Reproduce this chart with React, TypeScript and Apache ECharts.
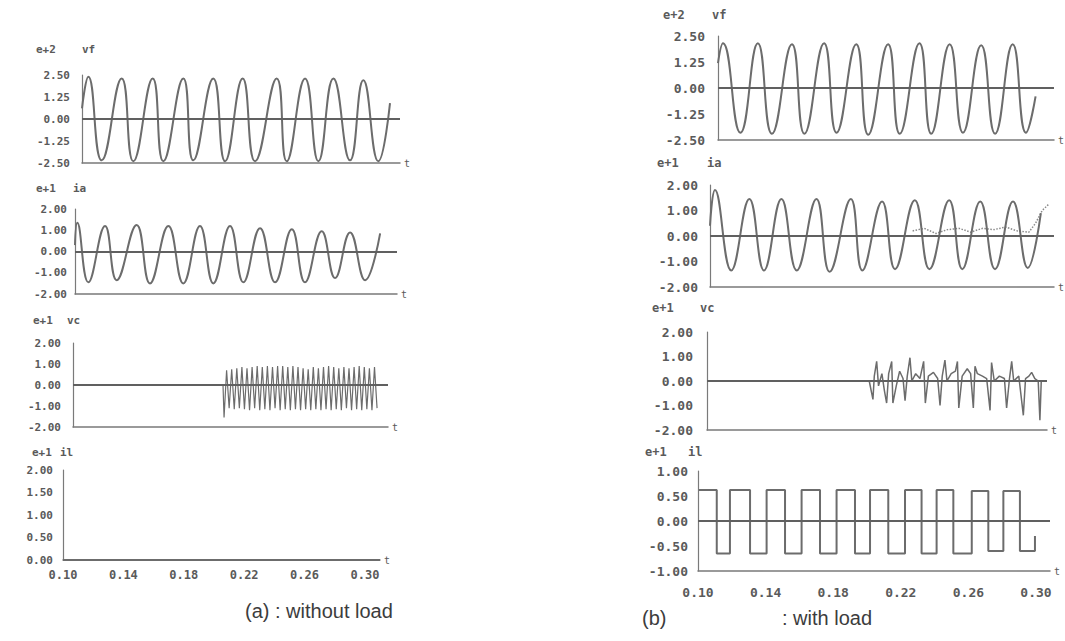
import React, { useEffect, useRef } from "react";
import * as echarts from "echarts";

// ---------- tick labels ----------
const xTickLabels = ["0.10", "0.14", "0.18", "0.22", "0.26", "0.30"];
const vfTicks = [-2.5, -1.25, 0, 1.25, 2.5];
const iaTicks = [-2, -1, 0, 1, 2];
const vcTicks = [-2, -1, 0, 1, 2];
const ilTicksA = [0, 0.5, 1, 1.5, 2];
const ilTicksB = [-1, -0.5, 0, 0.5, 1];

// ---------- (a) without load ----------
// vf : start, then alternating peaks / troughs
const vfAT = [0.1, 0.1042, 0.113, 0.1262, 0.1339, 0.1467, 0.1537, 0.1669, 0.1735, 0.1867, 0.1945, 0.2061, 0.2143,
  0.2286, 0.2352, 0.2473, 0.2561, 0.266, 0.277, 0.2858, 0.2957, 0.3034];
const vfAV = [0.6, 2.4, -2.35, 2.3, -2.4, 2.3, -2.4, 2.3, -2.35, 2.3, -2.4, 2.3, -2.4, 2.3, -2.4, 2.3, -2.4, 2.3,
  -2.35, 2.2, -2.4, 0.9];

const iaAT = [0.1, 0.1015, 0.1087, 0.1196, 0.1272, 0.1402, 0.1489, 0.1609, 0.1706, 0.1815, 0.1902, 0.2011, 0.2098,
  0.2207, 0.2305, 0.2414, 0.25, 0.2609, 0.2696, 0.2794, 0.2892, 0.299];
const iaAV = [0.3, 1.35, -1.45, 1.2, -1.35, 1.25, -1.5, 1.2, -1.5, 1.2, -1.5, 1.2, -1.45, 1.1, -1.45, 1.05, -1.45,
  0.95, -1.25, 0.9, -1.35, 0.85];

const vcABaseT = [0.1, 0.2];
const vcABaseV = [0, 0];
const vcASpikeStart = 0.2007;
const vcASpikeStep = 0.0017;
const vcASpikeV = [-1.55, 0.7, -1.1, 0.75, -1.15, 0.8, -1.1, 0.85, -1.15, 0.8, -1.2, 0.85, -1.1, 0.9, -1.2, 0.85,
  -1.15, 0.9, -1.2, 0.85, -1.1, 0.9, -1.2, 0.9, -1.15, 0.85, -1.2, 0.9, -1.15, 0.85, -1.2, 0.8, -1.15, 0.75, -1.2,
  0.85, -1.15, 0.8, -1.2, 0.85, -1.15, 0.9, -1.2, 0.85, -1.15, 0.8, -1.2, 0.85, -1.1, 0.8, -1.2, 0.85, -1.15, 0.9,
  -1.2, 0.85, -1.15, 0.8, -1.2, 0.85, -1.1];

const ilAT = [0.1, 0.31];
const ilAV = [0, 0];

// ---------- (b) with load ----------
const vfBT = [0.1, 0.1031, 0.114, 0.1249, 0.1337, 0.1462, 0.154, 0.1663, 0.1741, 0.1864, 0.1939, 0.2063, 0.2136,
  0.2259, 0.2333, 0.2448, 0.2531, 0.2645, 0.2732, 0.2842, 0.2925, 0.2985];
const vfBV = [1.2, 2.15, -2.15, 2.15, -2.2, 2.1, -2.2, 2.15, -2.15, 2.1, -2.25, 2.1, -2.2, 2.15, -2.2, 2.1, -2.15,
  2.05, -2.2, 2.1, -2.15, -0.4];

const iaBT = [0.1, 0.103, 0.1128, 0.1237, 0.1325, 0.143, 0.1522, 0.1641, 0.172, 0.1848, 0.1917, 0.2036, 0.2114,
  0.2233, 0.2321, 0.244, 0.2519, 0.2627, 0.2716, 0.2824, 0.2913, 0.2992];
const iaBV = [0.4, 1.8, -1.35, 1.45, -1.35, 1.45, -1.35, 1.45, -1.4, 1.45, -1.35, 1.35, -1.3, 1.4, -1.3, 1.4, -1.3,
  1.35, -1.3, 1.35, -1.25, 0.9];
// dotted trace superimposed on ia
const iaRefBT = [0.222, 0.229, 0.236, 0.243, 0.25, 0.257, 0.264, 0.271, 0.278, 0.285, 0.292, 0.296, 0.3, 0.304];
const iaRefBV = [0.2, 0.3, 0.1, 0.25, 0.3, 0.15, 0.3, 0.25, 0.35, 0.2, 0.15, 0.5, 1.0, 1.25];

const vcBT = [0.1, 0.196, 0.1982, 0.199, 0.2004, 0.2015, 0.2035, 0.205, 0.2063, 0.2075, 0.2093, 0.21, 0.212, 0.214,
  0.216, 0.2172, 0.2185, 0.2201, 0.2212, 0.2235, 0.226, 0.2282, 0.2292, 0.231, 0.234, 0.2365, 0.2379, 0.2392, 0.2408,
  0.242, 0.2445, 0.247, 0.2482, 0.249, 0.251, 0.254, 0.256, 0.2576, 0.2586, 0.26, 0.263, 0.2655, 0.2675, 0.2684, 0.27,
  0.273, 0.276, 0.2773, 0.279, 0.2803, 0.2815, 0.2845, 0.2872, 0.2885, 0.2905, 0.2921, 0.294, 0.296, 0.297, 0.2978, 0.3];
const vcBV = [0, 0, -0.75, 0.2, 0.8, -0.2, 0.3, -0.4, -0.9, 0.3, 0.8, -0.9, -0.2, 0.4, 0.1, -0.8, 0.2, 0.95, 0, 0.3,
  0.1, 0.8, -0.9, 0.2, 0.35, 0.1, -1.0, 0.2, 0.85, 0, 0.3, 0.4, 0.8, -1.1, 0.2, 0.5, 0.3, -1.1, 0.6, 0.3, 0.2, 0.1,
  -1.2, 0.75, 0, 0.2, 0.1, -1.1, 0.1, 0.8, 0, 0.2, -1.4, 0.1, 0.2, 0.35, 0.1, 0, -1.6, 0, 0];

// square-wave load current: switching instants and the level after each
const ilBEdgeT = [0.1005, 0.1111, 0.1189, 0.1308, 0.1406, 0.1515, 0.1613, 0.1722, 0.182, 0.1929, 0.2018, 0.2126,
  0.2225, 0.2323, 0.2412, 0.2511, 0.262, 0.2718, 0.2807, 0.2905, 0.2994];
const ilBLevel = [0.62, -0.65, 0.62, -0.65, 0.62, -0.65, 0.62, -0.65, 0.62, -0.65, 0.62, -0.65, 0.62, -0.65, 0.62,
  -0.65, 0.6, -0.6, 0.6, -0.6, -0.3];

const zip = (t: number[], v: number[]) => t.map((x, i) => [x, v[i]]);

const WAVE = "#6c6c6c";
const AXIS = "#7a7a7a";
const TXT = "#5a5a5a";
const MONO = "'DejaVu Sans Mono', 'Liberation Mono', monospace";

type Panel = {
  left: number; top: number; width: number; height: number; xMax: number;
  ticks: number[]; yMargin: number; ySize: number; xLabels: boolean; xSize: number; xMargin: number;
  exp: string; name: string; expX: number; nameX: number; headY: number; headSize: number; zero: boolean;
};

const panels: Panel[] = [
  { left: 82, top: 75, width: 318, height: 88, xMax: 0.31, ticks: vfTicks, yMargin: 12, ySize: 11, xLabels: false, xSize: 12, xMargin: 8, exp: "e+2", name: "vf", expX: 36, nameX: 82, headY: 49, headSize: 11, zero: true },
  { left: 75, top: 209, width: 322, height: 85, xMax: 0.31, ticks: iaTicks, yMargin: 8, ySize: 11, xLabels: false, xSize: 12, xMargin: 8, exp: "e+1", name: "ia", expX: 36, nameX: 73, headY: 188, headSize: 11, zero: true },
  { left: 73, top: 343, width: 315, height: 84, xMax: 0.31, ticks: vcTicks, yMargin: 12, ySize: 11, xLabels: false, xSize: 12, xMargin: 8, exp: "e+1", name: "vc", expX: 33, nameX: 67, headY: 320, headSize: 11, zero: true },
  { left: 63, top: 470, width: 317, height: 90, xMax: 0.31, ticks: ilTicksA, yMargin: 10, ySize: 11, xLabels: true, xSize: 12, xMargin: 9, exp: "e+1", name: "il", expX: 32, nameX: 60, headY: 452, headSize: 11, zero: false },
  { left: 718, top: 36, width: 355, height: 104, xMax: 0.31, ticks: vfTicks, yMargin: 13, ySize: 13, xLabels: false, xSize: 13, xMargin: 10, exp: "e+2", name: "vf", expX: 663, nameX: 712, headY: 15, headSize: 12, zero: true },
  { left: 710, top: 185, width: 350, height: 102, xMax: 0.3071, ticks: iaTicks, yMargin: 12, ySize: 13, xLabels: false, xSize: 13, xMargin: 10, exp: "e+1", name: "ia", expX: 657, nameX: 707, headY: 163, headSize: 12, zero: true },
  { left: 707, top: 332, width: 340, height: 98, xMax: 0.3012, ticks: vcTicks, yMargin: 14, ySize: 13, xLabels: false, xSize: 13, xMargin: 10, exp: "e+1", name: "vc", expX: 652, nameX: 700, headY: 308, headSize: 12, zero: true },
  { left: 698, top: 471, width: 352, height: 100, xMax: 0.3083, ticks: ilTicksB, yMargin: 10, ySize: 13, xLabels: true, xSize: 13, xMargin: 15, exp: "e+1", name: "il", expX: 645, nameX: 688, headY: 452, headSize: 12, zero: true },
];

const zeroLine = {
  silent: true,
  symbol: ["none", "none"],
  label: { show: false },
  lineStyle: { color: "#606060", width: 2, type: "solid" },
  data: [{ yAxis: 0 }],
};

export default function App() {
  const ref = useRef<HTMLDivElement>(null);
  useEffect(() => {
    const chart = echarts.init(ref.current!, null, { renderer: "svg" });

    const grid = panels.map((p) => ({ left: p.left, top: p.top, width: p.width, height: p.height }));
    const xAxis = panels.map((p, i) => ({
      type: "value", gridIndex: i, min: 0.1, max: p.xMax, interval: 0.02,
      axisLine: { show: true, onZero: false, lineStyle: { color: AXIS, width: 1.5 } },
      axisTick: { show: false }, splitLine: { show: false },
      axisLabel: {
        show: p.xLabels, margin: p.xMargin, color: TXT, fontFamily: MONO, fontWeight: "bold", fontSize: p.xSize,
        formatter: (v: number) => { const s = v.toFixed(2); return xTickLabels.includes(s) ? s : ""; },
      },
      name: "t", nameLocation: "end", nameGap: 4,
      nameTextStyle: { color: TXT, fontFamily: MONO, fontSize: 10, verticalAlign: "middle" },
    }));
    const yAxis = panels.map((p, i) => ({
      type: "value", gridIndex: i, min: p.ticks[0], max: p.ticks[p.ticks.length - 1],
      interval: p.ticks[1] - p.ticks[0],
      axisLine: { show: true, lineStyle: { color: AXIS, width: 1.2 } },
      axisTick: { show: false }, splitLine: { show: false },
      axisLabel: {
        margin: p.yMargin, color: TXT, fontFamily: MONO, fontWeight: "bold", fontSize: p.ySize,
        formatter: (v: number) => v.toFixed(2),
      },
    }));

    const line = (i: number, data: number[][], extra: any = {}) => ({
      type: "line", xAxisIndex: i, yAxisIndex: i, data, showSymbol: false, symbol: "none",
      lineStyle: { color: WAVE, width: 2 }, z: 3,
      markLine: panels[i].zero ? zeroLine : undefined,
      ...extra,
    });

    const vcAData = [
      ...zip(vcABaseT, vcABaseV),
      ...vcASpikeV.map((v, k) => [vcASpikeStart + k * vcASpikeStep, v]),
    ];

    const series = [
      line(0, zip(vfAT, vfAV), { smooth: 0.5 }),
      line(1, zip(iaAT, iaAV), { smooth: 0.45 }),
      line(2, vcAData, { lineStyle: { color: WAVE, width: 1.2 } }),
      line(3, zip(ilAT, ilAV)),
      line(4, zip(vfBT, vfBV), { smooth: 0.5 }),
      line(5, zip(iaBT, iaBV), { smooth: 0.45 }),
      {
        type: "line", xAxisIndex: 5, yAxisIndex: 5, data: zip(iaRefBT, iaRefBV), showSymbol: false, symbol: "none",
        lineStyle: { color: "#8a8a8a", width: 1.5, type: "dotted" }, z: 2,
      },
      line(6, zip(vcBT, vcBV), { lineStyle: { color: WAVE, width: 1.5 } }),
      line(7, zip(ilBEdgeT, ilBLevel), { step: "end" }),
    ];

    const headers: any[] = [];
    panels.forEach((p) => {
      headers.push({
        type: "text", x: p.expX, y: p.headY,
        style: { text: p.exp, fill: TXT, fontFamily: MONO, fontWeight: "bold", fontSize: p.headSize, verticalAlign: "middle" },
      });
      headers.push({
        type: "text", x: p.nameX, y: p.headY,
        style: { text: p.name, fill: TXT, fontFamily: MONO, fontWeight: "bold", fontSize: p.headSize, verticalAlign: "middle" },
      });
    });
    const capStyle = { fill: "#3c3c3c", fontFamily: "'Liberation Sans', Arial, sans-serif", fontSize: 20, verticalAlign: "middle" };
    headers.push({ type: "text", x: 245, y: 611, style: { ...capStyle, text: "(a) : without load" } });
    headers.push({ type: "text", x: 642, y: 618, style: { ...capStyle, text: "(b)" } });
    headers.push({ type: "text", x: 782, y: 618, style: { ...capStyle, text: ": with load" } });

    chart.setOption({
      animation: false,
      backgroundColor: "#ffffff",
      grid, xAxis, yAxis, series,
      graphic: headers,
    });
    return () => chart.dispose();
  }, []);
  return (
    <div
      ref={ref}
      style={{ position: "fixed", left: 0, top: 0, width: 1065, height: 641, background: "#fff" }}
    />
  );
}
